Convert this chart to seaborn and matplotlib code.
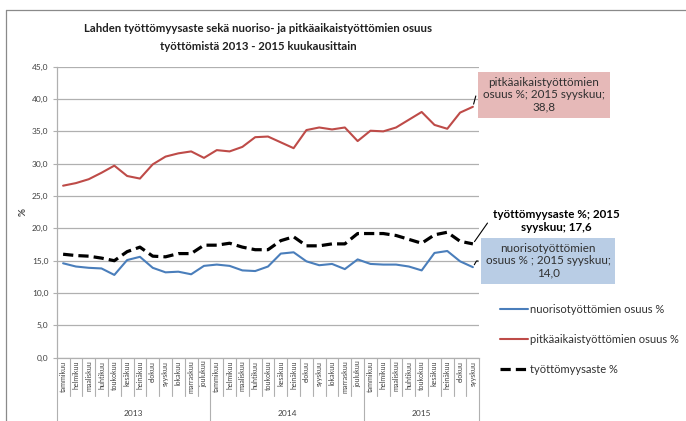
import matplotlib
matplotlib.use("Agg")
from matplotlib import pyplot as plt
from matplotlib.lines import Line2D
import matplotlib.transforms as mtransforms
import seaborn as sns
import pandas as pd

months = ["tammikuu", "helmikuu", "maaliskuu", "huhtikuu", "toukokuu", "kesäkuu",
          "heinäkuu", "elokuu", "syyskuu", "lokakuu", "marraskuu", "joulukuu"]
years = ["2013", "2014", "2015"]
month_labels = months + months + months[:9]

nuoriso = [14.6, 14.1, 13.9, 13.8, 12.8, 15.1, 15.6, 13.9, 13.2, 13.3, 12.9, 14.2,
           14.4, 14.2, 13.5, 13.4, 14.1, 16.1, 16.3, 14.9, 14.3, 14.5, 13.7, 15.2,
           14.5, 14.4, 14.4, 14.1, 13.5, 16.2, 16.5, 14.9, 14.0]
pitka = [26.6, 27.0, 27.6, 28.6, 29.7, 28.1, 27.7, 29.9, 31.1, 31.6, 31.9, 30.9,
         32.1, 31.9, 32.6, 34.1, 34.2, 33.3, 32.4, 35.2, 35.6, 35.3, 35.6, 33.5,
         35.1, 35.0, 35.6, 36.8, 38.0, 36.0, 35.4, 37.9, 38.8]
tyottomyys = [16.0, 15.8, 15.7, 15.4, 15.0, 16.4, 17.1, 15.7, 15.6, 16.1, 16.1, 17.4,
              17.4, 17.7, 17.1, 16.7, 16.7, 18.1, 18.7, 17.3, 17.3, 17.6, 17.6, 19.2,
              19.2, 19.2, 18.9, 18.3, 17.7, 19.0, 19.4, 18.0, 17.6]

series_names = ["nuorisotyöttömien osuus %", "pitkäaikaistyöttömien osuus %", "työttömyysaste %"]

df = pd.DataFrame({"idx": range(len(month_labels)), "kuukausi": month_labels,
                   "nuoriso": nuoriso, "pitka": pitka, "tyottomyys": tyottomyys})

sns.set_style("white")
plt.rcParams["font.family"] = ["Lato", "DejaVu Sans"]

BLUE = "#4A7EBB"
RED = "#BE4B48"
GRID = "#B0B0B0"
TXT = "#404040"

fig = plt.figure(figsize=(6.86, 4.21), dpi=100)
ax = fig.add_axes([56.7 / 686, 1 - 357.7 / 421, 422.6 / 686, 291 / 421])

sns.lineplot(data=df, x="idx", y="nuoriso", color=BLUE, linewidth=1.5, ax=ax)
sns.lineplot(data=df, x="idx", y="pitka", color=RED, linewidth=1.5, ax=ax)
sns.lineplot(data=df, x="idx", y="tyottomyys", color="black", linewidth=2.3, ax=ax)
ax.lines[-1].set_dashes([3.2, 1.6])

ax.set_xlim(-0.5, len(month_labels) - 0.5)
ax.set_ylim(0, 45)
ax.set_yticks(range(0, 46, 5))
ax.set_yticklabels([f"{v},0" for v in range(0, 46, 5)], fontsize=6, color=TXT)
ax.tick_params(axis="y", length=3, width=0.8, color=GRID, pad=3, left=True)
ax.set_xticks([])
ax.set_xlabel("")
ax.set_ylabel("%", fontsize=7, color=TXT, fontweight="bold", labelpad=3)
ax.yaxis.grid(True, color=GRID, linewidth=0.9)
ax.set_axisbelow(True)
for s in ["top", "right"]:
    ax.spines[s].set_visible(False)
for s in ["left", "bottom"]:
    ax.spines[s].set_color(GRID)
    ax.spines[s].set_linewidth(0.9)

# category axis: months, then years
trans = mtransforms.blended_transform_factory(ax.transData, ax.transAxes)
px = 1 / 291
for i, m in enumerate(month_labels):
    ax.text(i, -3 * px, m, rotation=90, ha="center", va="top", fontsize=5,
            color=TXT, transform=trans)
for i in range(len(month_labels) + 1):
    x = i - 0.5
    low = -64 * px if i % 12 == 0 or i == len(month_labels) else -38 * px
    ax.plot([x, x], [0, low], color=GRID, linewidth=0.8, transform=trans, clip_on=False)
for k, y in enumerate(years):
    start = k * 12 - 0.5
    end = min((k + 1) * 12, len(month_labels)) - 0.5
    ax.text((start + end) / 2, -56 * px, y, ha="center", va="center", fontsize=6,
            color=TXT, transform=trans)

# data callouts
last = len(month_labels) - 1
ax.annotate("pitkäaikaistyöttömien\nosuus %; 2015 syyskuu;\n38,8",
            xy=(last, pitka[-1]), xytext=(544 / 686, 1 - 95 / 421),
            textcoords="figure fraction", ha="center", va="center", fontsize=8.4,
            color="#303030", linespacing=1.15,
            bbox=dict(boxstyle="square,pad=0.4", fc="#E6B9B8", ec="none"),
            arrowprops=dict(arrowstyle="-", color="black", lw=0.8,
                            connectionstyle="angle,angleA=0,angleB=75,rad=0"),
            annotation_clip=False)
ax.annotate("nuorisotyöttömien\nosuus % ; 2015 syyskuu;\n14,0",
            xy=(last, nuoriso[-1]), xytext=(548 / 686, 1 - 261 / 421),
            textcoords="figure fraction", ha="center", va="center", fontsize=8.4,
            color="#303030", linespacing=1.15,
            bbox=dict(boxstyle="square,pad=0.4", fc="#B9CDE5", ec="none"),
            arrowprops=dict(arrowstyle="-", color="black", lw=0.8,
                            connectionstyle="angle,angleA=0,angleB=60,rad=0"),
            annotation_clip=False)
ax.annotate("työttömyysaste %; 2015\nsyyskuu; 17,6",
            xy=(last, tyottomyys[-1]), xytext=(556 / 686, 1 - 221 / 421),
            textcoords="figure fraction", ha="center", va="center", fontsize=8.4,
            fontweight="bold", color="black", linespacing=1.15,
            arrowprops=dict(arrowstyle="-", color="black", lw=0.8,
                            connectionstyle="angle,angleA=0,angleB=55,rad=0",
                            relpos=(0, 0.5)),
            annotation_clip=False)

# legend
handles = [Line2D([], [], color=BLUE, lw=1.5),
           Line2D([], [], color=RED, lw=1.5),
           Line2D([], [], color="black", lw=2.3, dashes=[3.2, 1.6])]
fig.legend(handles, series_names, loc="upper left",
           bbox_to_anchor=(490 / 686, 1 - 294 / 421), frameon=False, fontsize=8.0,
           labelspacing=1.7, handlelength=2.5, handletextpad=0.2,
           labelcolor="#303030")

fig.suptitle("Lahden työttömyysaste sekä nuoriso- ja pitkäaikaistyöttömien osuus\n"
             "työttömistä 2013 - 2015 kuukausittain",
             x=258 / 686, y=1 - 23 / 421, va="top", fontsize=8.2, fontweight="bold",
             color="#202020", linespacing=1.75)

# outer chart frame (partly cut off like the screenshot)
fig.add_artist(Line2D([6 / 686, 1], [1 - 10 / 421] * 2, color="#8A8A8A", lw=0.9))
fig.add_artist(Line2D([6 / 686] * 2, [0, 1 - 10 / 421], color="#8A8A8A", lw=0.9))

fig.savefig("out.png", dpi=100)
